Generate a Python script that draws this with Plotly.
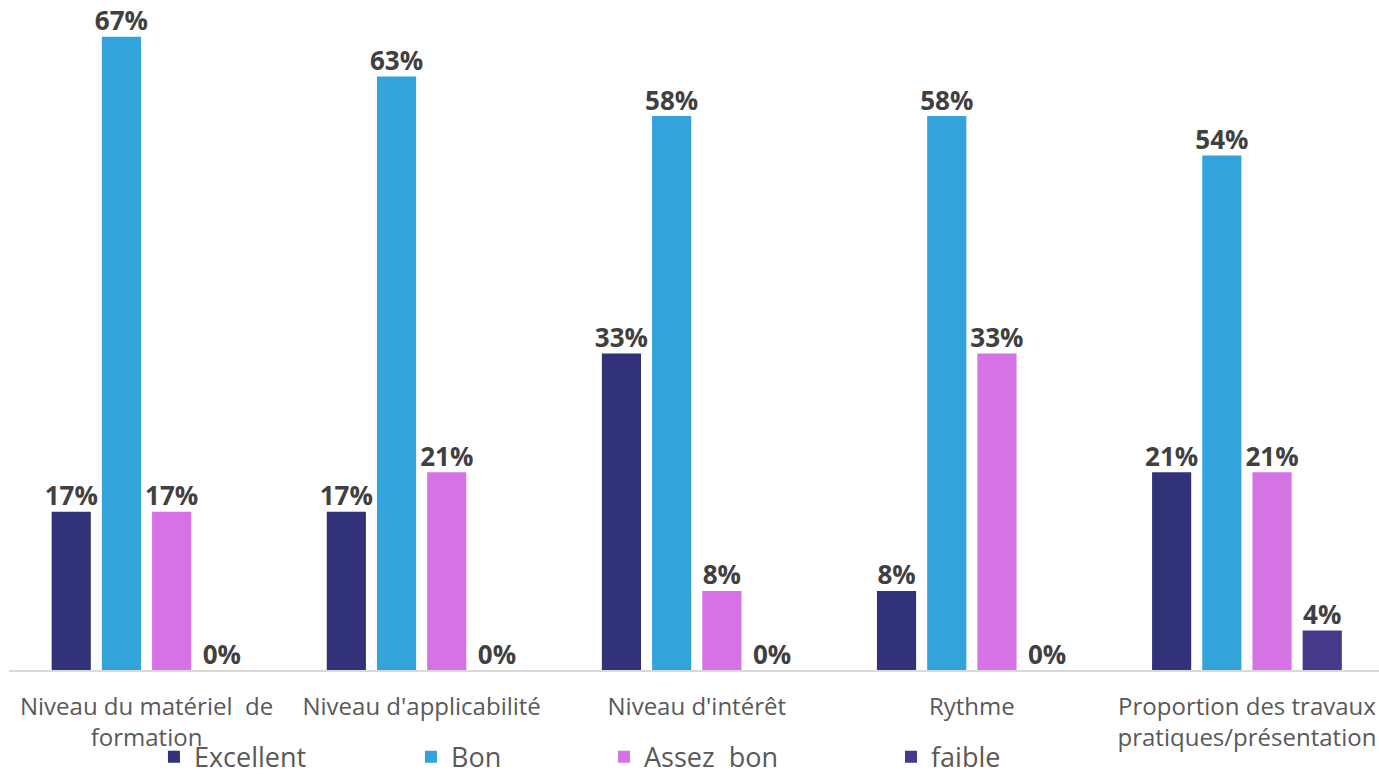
import plotly.graph_objects as go

categories = [
    "Niveau du matériel  de<br>formation",
    "Niveau d'applicabilité",
    "Niveau d'intérêt",
    "Rythme",
    "Proportion des travaux<br>pratiques/présentation",
]
excellent = [0.1667, 0.1667, 0.3333, 0.0833, 0.2083]
bon = [0.6667, 0.6250, 0.5833, 0.5833, 0.5417]
assez_bon = [0.1667, 0.2083, 0.0833, 0.3333, 0.2083]
faible = [0.0, 0.0, 0.0, 0.0, 0.0417]

series = [
    ("Excellent", excellent, "#323279", "legend"),
    ("Bon", bon, "#32A3DB", "legend2"),
    ("Assez  bon", assez_bon, "#D572E4", "legend3"),
    ("faible", faible, "#47388A", "legend4"),
]

fig = go.Figure()
for name, vals, color, lg in series:
    fig.add_trace(go.Bar(
        x=categories, y=vals, name=name, legend=lg,
        marker=dict(color=color, line=dict(width=0)),
        offsetgroup=name,
    ))

# value labels: grouped text-only scatter traces sitting on top of each bar
for name, vals, color, lg in series:
    fig.add_trace(go.Scatter(
        x=categories, y=vals, mode="text", legend=lg, showlegend=False,
        offsetgroup=name,
        texttemplate="%{y:.0%}", textposition="top center",
        textfont=dict(family="Open Sans", size=26, color="#404040", weight="bold"),
        cliponaxis=False, hoverinfo="skip",
    ))

legend_font = dict(family="Open Sans", size=27, color="#595959")
legend_x = [0.1058, 0.2934, 0.4343, 0.6438]
legends = {}
for i, lx in enumerate(legend_x):
    key = "legend" if i == 0 else f"legend{i + 1}"
    legends[key] = dict(
        x=lx, y=-0.095, xanchor="left", yanchor="top",
        orientation="h", font=legend_font, bgcolor="rgba(0,0,0,0)",
        itemwidth=30, tracegroupgap=0,
    )

fig.update_layout(
    width=1379, height=774,
    barmode="group", bargap=0.27, bargroupgap=0.22,
    scattermode="group", scattergap=0.27,
    plot_bgcolor="white", paper_bgcolor="white",
    margin=dict(l=9, r=0, t=10, b=104, autoexpand=False),
    showlegend=True,
    **legends,
)
fig.update_xaxes(
    range=[-0.5, 4.48], automargin=False,
    showline=True, linecolor="#D9D9D9", linewidth=2,
    ticks="", ticklabelstandoff=14,
    tickfont=dict(family="Open Sans", size=24, color="#595959"),
    showgrid=False,
)
fig.update_yaxes(range=[0, 0.695], visible=False, showgrid=False, zeroline=False)

fig.write_html("out.html")
